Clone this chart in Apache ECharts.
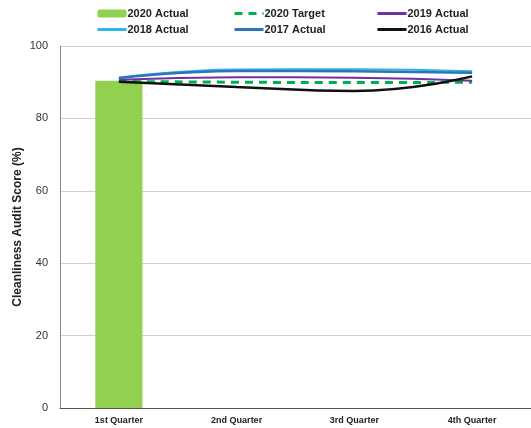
<!DOCTYPE html>
<html><head><meta charset="utf-8">
<script src="https://cdn.jsdelivr.net/npm/echarts@6/dist/echarts.min.js"></script>
<style>html,body{margin:0;padding:0;background:#fff}#c{width:531px;height:428px}</style>
</head><body><div id="c"></div>
<script>
var categories = ['1st Quarter', '2nd Quarter', '3rd Quarter', '4th Quarter'];
var actual2020 = [90.4, null, null, null];
var target2020 = [90.2, 90.0, 89.9, 90.0];
var actual2019 = [90.7, 91.4, 91.2, 90.4];
var actual2018 = [91.3, 93.5, 93.6, 93.0];
var actual2017 = [91.1, 93.1, 93.0, 92.6];
var actual2016 = [90.1, 88.7, 87.6, 91.6];
var yTicks = [0, 20, 40, 60, 80, 100];

var chart = echarts.init(document.getElementById('c'), null, {renderer: 'canvas'});
var F = 'Liberation Sans, Arial, sans-serif';
var legendText = {fontFamily: F, fontWeight: 'bold', fontSize: 11, color: '#222', padding: [0, 0, 0, -4]};
function item(n) {
  return n === '2020 Actual' ? {name: n} : {name: n, itemStyle: {opacity: 0}};
}
function lg(left, names) {
  return {orient: 'vertical', left: left, top: 3, itemWidth: 29, itemHeight: 8, itemGap: 5,
    textStyle: legendText, data: names.map(item), selectedMode: false,
    lineStyle: {width: 3}};
}
chart.setOption({
  animation: false,
  legend: [
    lg(91, ['2020 Actual', '2018 Actual']),
    lg(228, ['2020 Target', '2017 Actual']),
    lg(371, ['2019 Actual', '2016 Actual'])
  ],
  grid: {left: 60, top: 46, width: 474, height: 362, containLabel: false},
  xAxis: {
    type: 'category', data: categories, boundaryGap: true,
    axisLine: {lineStyle: {color: '#555', width: 1}},
    axisTick: {show: false},
    axisLabel: {fontFamily: F, fontWeight: 'bold', fontSize: 9, color: '#222', margin: 8}
  },
  yAxis: {
    type: 'value', min: yTicks[0], max: yTicks[yTicks.length - 1], interval: 20,
    name: 'Cleanliness Audit Score (%)', nameLocation: 'middle', nameGap: 36,
    nameMoveOverlap: false,
    nameTextStyle: {fontFamily: F, fontWeight: 'bold', fontSize: 12, color: '#222'},
    axisLine: {show: true, lineStyle: {color: '#888'}},
    axisTick: {show: false},
    axisLabel: {fontFamily: F, fontSize: 11, color: '#333', margin: 12},
    splitLine: {lineStyle: {color: '#d0d0d0'}}
  },
  series: [
    {name: '2020 Actual', type: 'bar', data: actual2020, barWidth: '40%',
      itemStyle: {color: '#92D050'}},
    {name: '2020 Target', type: 'line', data: target2020, smooth: true, symbol: 'none',
      itemStyle: {color: '#00B050'}, lineStyle: {color: '#00B050', width: 3, type: [8, 6]}},
    {name: '2019 Actual', type: 'line', data: actual2019, smooth: true, symbol: 'none',
      itemStyle: {color: '#7030A0'}, lineStyle: {color: '#7030A0', width: 2}},
    {name: '2018 Actual', type: 'line', data: actual2018, smooth: true, symbol: 'none',
      itemStyle: {color: '#2EB4E8'}, lineStyle: {color: '#2EB4E8', width: 2}},
    {name: '2017 Actual', type: 'line', data: actual2017, smooth: true, symbol: 'none',
      itemStyle: {color: '#2E75B6'}, lineStyle: {color: '#2E75B6', width: 2.5}},
    {name: '2016 Actual', type: 'line', data: actual2016, smooth: true, symbol: 'none',
      itemStyle: {color: '#111'}, lineStyle: {color: '#111', width: 2.5}}
  ]
});
</script></body></html>
